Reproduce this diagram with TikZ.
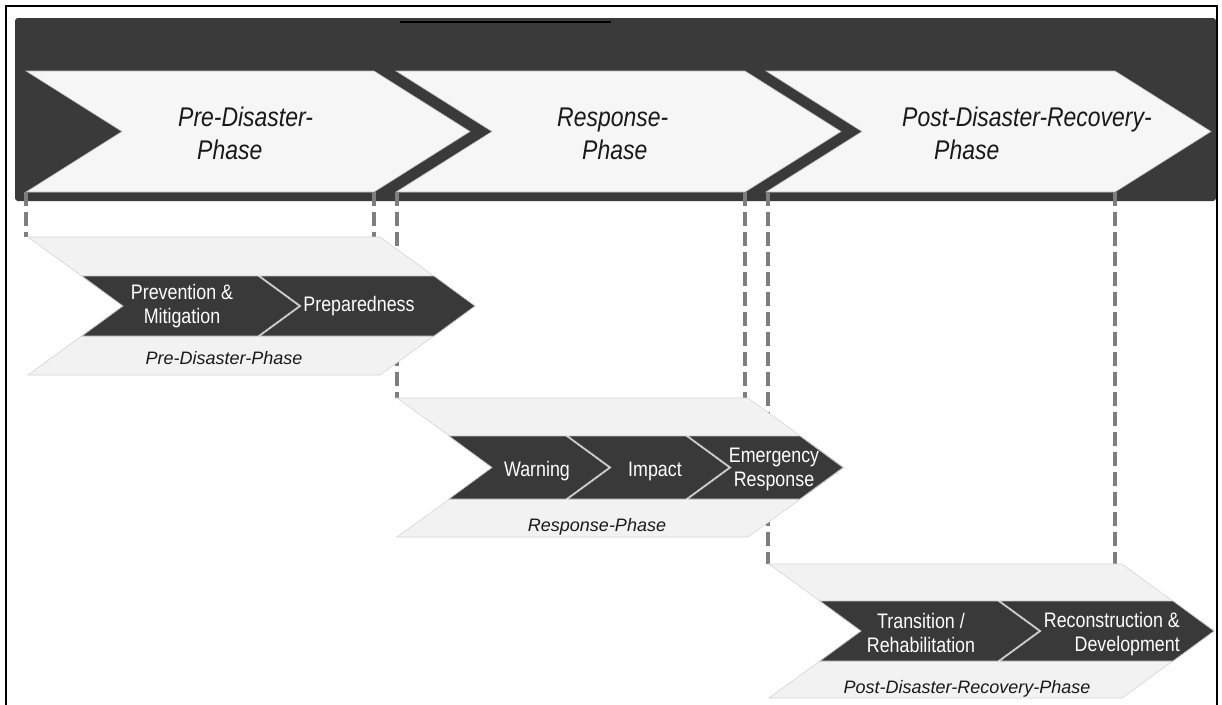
\documentclass[tikz,border=0pt]{standalone}
\usepackage{fontspec}
\newfontfamily\hdfont[FakeStretch=0.85]{Liberation Sans}
\newfontfamily\capfont{Liberation Sans}
\definecolor{bandgray}{HTML}{3A3A3A}
\definecolor{chevlight}{HTML}{F6F6F6}
\definecolor{sublight}{HTML}{F2F2F2}
\definecolor{subedge}{HTML}{D6D6D6}
\definecolor{stepdark}{HTML}{393939}
\definecolor{dashgray}{HTML}{7E7E7E}
% chevron outline: style, left, right, top, bottom, point depth
\newcommand{\chevpath}[6]{%
  \path[#1] (#2,#4) -- (#3,#4) -- ({#3+#6},{(#4+#5)/2}) -- (#3,#5) -- (#2,#5)
    -- ({#2+#6},{(#4+#5)/2}) -- cycle;}
\begin{document}
\begin{tikzpicture}[x=1pt,y=-1pt,
  phasechev/.style={fill=chevlight,draw=gray!55,line width=0.6pt},
  subchev/.style={fill=sublight,draw=subedge,line width=0.6pt},
  stepchev/.style={fill=stepdark,draw=gray!45,line width=0.7pt},
  hdtext/.style={font=\hdfont\itshape\fontsize{27}{33}\selectfont,align=left,inner sep=0pt,text=black!90},
  steptext/.style={font=\hdfont\fontsize{21}{24}\selectfont,align=center,inner sep=0pt,text=white},
  captext/.style={font=\capfont\itshape\fontsize{18}{20}\selectfont,inner sep=0pt,text=black!90},
  guide/.style={draw=dashgray,line width=3.2pt,dash pattern=on 14pt off 6pt}]
\useasboundingbox (0,0) rectangle (1222,704);
\fill[white] (0,0) rectangle (1222,704);

% outer frame
\draw[black,line width=2.5pt] (6,712) -- (6,6) -- (1217,6) -- (1217,712);

% dark header band
\fill[bandgray,rounded corners=3pt] (15,18) rectangle (1216,201);
\draw[black,line width=2pt] (400,22) -- (611,22);

% phase chevrons in the band
\chevpath{phasechev}{26}{374}{71}{192}{96}
\chevpath{phasechev}{396}{745}{71}{192}{96}
\chevpath{phasechev}{766}{1115}{71}{192}{96}

\node[hdtext,anchor=west] (pre)  at (178,133.5) {Pre-Disaster-\\\hspace*{19pt}Phase};
\node[hdtext,anchor=west] (resp) at (557,133.5) {Response-\\\hspace*{25pt}Phase};
\node[hdtext,anchor=west] (post) at (902,133.5) {Post-Disaster-Recovery-\\\hspace*{32pt}Phase};

% guide line end points
\coordinate (preL)  at (26,192);   \coordinate (subAL) at (26,237);
\coordinate (preR)  at (374,192);  \coordinate (subAR) at (374,237);
\coordinate (respL) at (397,192);  \coordinate (subBL) at (397,398);
\coordinate (respR) at (745,192);  \coordinate (subBR) at (745,398);
\coordinate (postL) at (768,192);  \coordinate (subCL) at (768,564);
\coordinate (postR) at (1115,192); \coordinate (subCR) at (1115,564);

\draw[guide] (preL) -- (subAL);
\draw[guide] (preR) -- (subAR);
\draw[guide] (respL) -- (subBL);
\draw[guide] (respR) -- (subBR);
\draw[guide] (postL) -- (subCL);
\draw[guide] (postR) -- (subCR);

% pre-disaster detail
\chevpath{subchev}{28}{380}{237}{375}{95}
\chevpath{stepchev}{82}{258}{276}{336}{41}
\chevpath{stepchev}{260}{434}{276}{336}{41}
\node[steptext] (prev) at (182,306) {Prevention \&\\Mitigation};
\node[steptext] (prep) at (359,306) {Preparedness};
\node[captext] (preCap) at (224,358) {Pre-Disaster-Phase};

% response detail
\chevpath{subchev}{397}{748}{398}{537}{96}
\chevpath{stepchev}{449}{566}{436}{499}{43}
\chevpath{stepchev}{568}{686}{436}{499}{43}
\chevpath{stepchev}{688}{800}{436}{499}{43}
\node[steptext] (warn) at (537,471) {Warning};
\node[steptext] (imp)  at (655,471) {Impact};
\node[steptext] (emer) at (774,469) {Emergency\\Response};
\node[captext] (respCap) at (597,527) {Response-Phase};

% post-disaster detail
\chevpath{subchev}{769}{1122}{564}{698}{92}
\chevpath{stepchev}{820}{998}{601}{661}{41}
\chevpath{stepchev}{1000}{1173}{601}{661}{41}
\node[steptext] (trans) at (921,633) {Transition /\\Rehabilitation};
\node[steptext,align=right,anchor=east] (recon) at (1180,634) {Reconstruction \&\\Development};
\node[captext] (postCap) at (967,689) {Post-Disaster-Recovery-Phase};
\end{tikzpicture}
\end{document}
